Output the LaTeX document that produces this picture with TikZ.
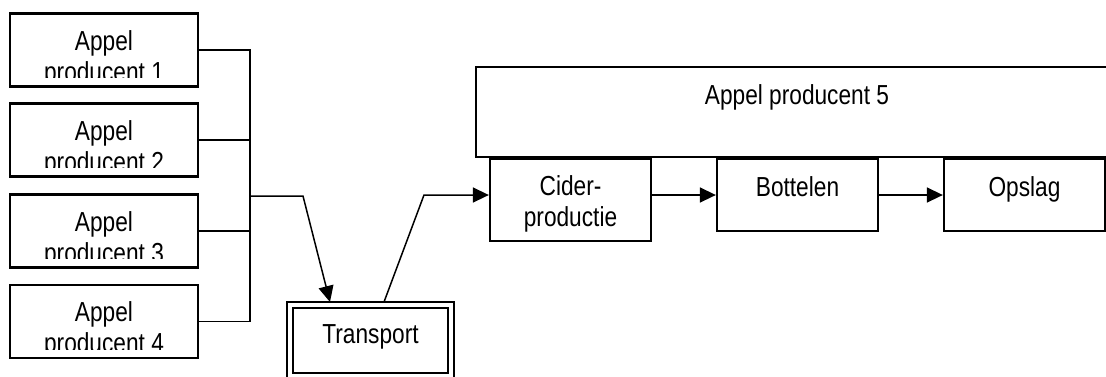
\documentclass[tikz,border=0pt]{standalone}
\usepackage{fontspec}
\setmainfont{Liberation Sans}[FakeStretch=0.825]
\usetikzlibrary{arrows.meta,calc}
\begin{document}
\begin{tikzpicture}[x=1pt,y=-1pt,
  boxst/.style={draw, line width=2.3pt, rectangle, inner sep=0pt, minimum width=161pt},
  lbl/.style={inner sep=0pt, anchor=base, align=center, font=\fontsize{27.5}{31}\selectfont},
  conn/.style={line width=1.5pt},
  arr/.style={conn, -{Triangle[length=16pt,width=15pt]}}]
\useasboundingbox (0,0) rectangle (1106,376);
\fill[white] (0,0) rectangle (1106,376);
\clip (0,0) rectangle (1106,376);

% producers 1-4 (label anchor = baseline of the last line)
\node[boxst, minimum width=188pt, minimum height=73pt] (p1) at (104,50) {};
\node[boxst, minimum width=188pt, minimum height=73pt] (p2) at (104,140) {};
\node[boxst, minimum width=188pt, minimum height=73pt] (p3) at (104,231) {};
\node[boxst, minimum width=188pt, minimum height=73pt] (p4) at (104,321.5) {};
\begin{scope}
  \clip (p1.north west) rectangle ($(p1.south east)+(0,-10)$);
  \node[lbl] (l1) at (104,81) {Appel\\producent 1};
\end{scope}
\begin{scope}
  \clip (p2.north west) rectangle ($(p2.south east)+(0,-10)$);
  \node[lbl] (l2) at (104,171) {Appel\\producent 2};
\end{scope}
\begin{scope}
  \clip (p3.north west) rectangle ($(p3.south east)+(0,-10)$);
  \node[lbl] (l3) at (104,262) {Appel\\producent 3};
\end{scope}
\begin{scope}
  \clip (p4.north west) rectangle ($(p4.south east)+(0,-10)$);
  \node[lbl] (l4) at (104,352) {Appel\\producent 4};
\end{scope}

% transport
\node[draw, double, line width=1.7pt, double distance=4.3pt, rectangle, inner sep=0pt,
      minimum width=161pt, minimum height=71pt] (tr) at (370.5,340.5) {};
\node[lbl] (trl) at (370.5,343) {Transport};

% producer 5 and its steps
\node[boxst, minimum width=642pt, minimum height=90pt] (ap5) at (797,112) {};
\node[lbl] (ap5l) at (797,104) {Appel producent 5};
\node[boxst, minimum height=82pt] (c) at (570.5,200) {};
\node[lbl] (cl) at (570.5,226) {Cider-\\productie};
\node[boxst, minimum height=72pt] (b) at (797.5,195) {};
\node[lbl] (bl) at (797.5,196) {Bottelen};
\node[boxst, minimum height=72pt] (o) at (1024.5,195) {};
\node[lbl] (ol) at (1024.5,196) {Opslag};

% connectors
\coordinate (bt) at (250,50);
\coordinate (bb) at (250,321.5);
\coordinate (bj) at (250,196);
\coordinate (bk) at (303,196);
\coordinate (tin) at (330,302);
\coordinate (tout) at (384,302);
\coordinate (ck) at (424,195);

\draw[conn] (p1.east) -- (bt) -- (bb) -- (p4.east);
\draw[conn] (p2.east) -- (p2.east -| bt);
\draw[conn] (p3.east) -- (p3.east -| bt);
\draw[arr] (bj) -- (bk) -- (tin);
\draw[arr] (tout) -- (ck) -- (c.west |- ck);
\draw[arr] (c.east |- b.west) -- (b.west);
\draw[arr] (b.east) -- (o.west);
\end{tikzpicture}
\end{document}
